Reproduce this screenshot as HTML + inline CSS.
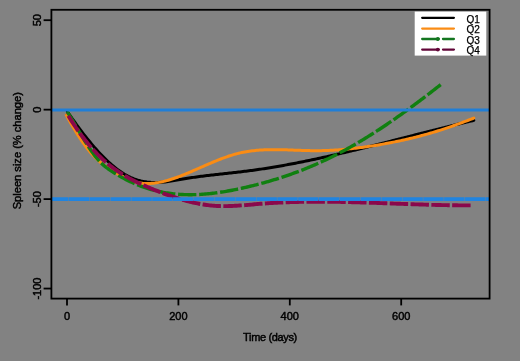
<!DOCTYPE html>
<html><head><meta charset="utf-8"><style>
html,body{margin:0;padding:0;background:rgb(130,130,130);}
body{width:520px;height:361px;overflow:hidden;font-family:"Liberation Sans", sans-serif;}
svg{display:block;filter:blur(0.4px);}
</style></head><body>
<svg width="520" height="361" viewBox="0 0 520 361">
<rect x="0" y="0" width="520" height="361" fill="rgb(130,130,130)"/>
<path d="M67.50,111.85 L69.00,114.01 L70.50,116.16 L72.00,118.29 L73.50,120.39 L75.00,122.48 L76.50,124.55 L78.00,126.60 L79.50,128.62 L81.00,130.62 L82.50,132.59 L84.00,134.54 L85.50,136.47 L87.00,138.36 L88.50,140.23 L90.00,142.07 L91.50,143.88 L93.00,145.65 L94.50,147.40 L96.00,149.11 L97.50,150.79 L99.00,152.44 L100.50,154.04 L102.00,155.62 L103.50,157.15 L105.00,158.65 L106.50,160.11 L108.00,161.52 L109.50,162.90 L111.00,164.23 L112.50,165.53 L114.00,166.77 L115.50,167.98 L117.00,169.14 L118.50,170.25 L120.00,171.31 L121.50,172.33 L123.00,173.29 L124.50,174.21 L126.00,175.07 L127.50,175.89 L129.00,176.65 L130.50,177.36 L132.00,178.01 L133.50,178.62 L135.00,179.17 L136.50,179.68 L138.00,180.14 L139.50,180.56 L141.00,180.93 L142.50,181.26 L144.00,181.55 L145.50,181.79 L147.00,182.00 L148.50,182.17 L150.00,182.30 L151.50,182.40 L153.00,182.47 L154.50,182.50 L156.00,182.50 L157.50,182.47 L159.00,182.41 L160.50,182.33 L162.00,182.22 L163.50,182.08 L165.00,181.92 L166.50,181.74 L168.00,181.55 L169.50,181.34 L171.00,181.11 L172.50,180.87 L174.00,180.63 L175.50,180.37 L177.00,180.11 L178.50,179.84 L180.00,179.58 L181.50,179.31 L183.00,179.05 L184.50,178.79 L186.00,178.54 L187.50,178.29 L189.00,178.05 L190.50,177.82 L192.00,177.59 L193.50,177.37 L195.00,177.15 L196.50,176.94 L198.00,176.73 L199.50,176.53 L201.00,176.33 L202.50,176.14 L204.00,175.95 L205.50,175.77 L207.00,175.59 L208.50,175.41 L210.00,175.23 L211.50,175.06 L213.00,174.89 L214.50,174.72 L216.00,174.55 L217.50,174.39 L219.00,174.22 L220.50,174.06 L222.00,173.90 L223.50,173.73 L225.00,173.57 L226.50,173.41 L228.00,173.25 L229.50,173.08 L231.00,172.92 L232.50,172.76 L234.00,172.59 L235.50,172.42 L237.00,172.25 L238.50,172.08 L240.00,171.90 L241.50,171.73 L243.00,171.55 L244.50,171.36 L246.00,171.18 L247.50,170.98 L249.00,170.79 L250.50,170.59 L252.00,170.39 L253.50,170.19 L255.00,169.98 L256.50,169.77 L258.00,169.55 L259.50,169.33 L261.00,169.11 L262.50,168.88 L264.00,168.66 L265.50,168.43 L267.00,168.19 L268.50,167.95 L270.00,167.71 L271.50,167.47 L273.00,167.22 L274.50,166.97 L276.00,166.72 L277.50,166.46 L279.00,166.20 L280.50,165.94 L282.00,165.68 L283.50,165.41 L285.00,165.14 L286.50,164.87 L288.00,164.59 L289.50,164.31 L291.00,164.03 L292.50,163.75 L294.00,163.46 L295.50,163.17 L297.00,162.88 L298.50,162.59 L300.00,162.29 L301.50,161.99 L303.00,161.69 L304.50,161.39 L306.00,161.08 L307.50,160.78 L309.00,160.47 L310.50,160.15 L312.00,159.84 L313.50,159.52 L315.00,159.21 L316.50,158.88 L318.00,158.56 L319.50,158.24 L321.00,157.91 L322.50,157.58 L324.00,157.25 L325.50,156.92 L327.00,156.59 L328.50,156.25 L330.00,155.91 L331.50,155.57 L333.00,155.23 L334.50,154.89 L336.00,154.54 L337.50,154.20 L339.00,153.85 L340.50,153.50 L342.00,153.15 L343.50,152.80 L345.00,152.44 L346.50,152.09 L348.00,151.73 L349.50,151.38 L351.00,151.02 L352.50,150.66 L354.00,150.29 L355.50,149.93 L357.00,149.57 L358.50,149.20 L360.00,148.84 L361.50,148.47 L363.00,148.10 L364.50,147.73 L366.00,147.36 L367.50,146.99 L369.00,146.62 L370.50,146.25 L372.00,145.87 L373.50,145.50 L375.00,145.12 L376.50,144.75 L378.00,144.37 L379.50,143.99 L381.00,143.62 L382.50,143.24 L384.00,142.86 L385.50,142.48 L387.00,142.10 L388.50,141.72 L390.00,141.34 L391.50,140.95 L393.00,140.57 L394.50,140.19 L396.00,139.81 L397.50,139.43 L399.00,139.04 L400.50,138.66 L402.00,138.28 L403.50,137.89 L405.00,137.51 L406.50,137.13 L408.00,136.74 L409.50,136.36 L411.00,135.98 L412.50,135.59 L414.00,135.21 L415.50,134.82 L417.00,134.44 L418.50,134.06 L420.00,133.68 L421.50,133.29 L423.00,132.91 L424.50,132.53 L426.00,132.15 L427.50,131.77 L429.00,131.39 L430.50,131.01 L432.00,130.63 L433.50,130.25 L435.00,129.87 L436.50,129.49 L438.00,129.12 L439.50,128.74 L441.00,128.36 L442.50,127.99 L444.00,127.61 L445.50,127.24 L447.00,126.87 L448.50,126.50 L450.00,126.12 L451.50,125.76 L453.00,125.39 L454.50,125.02 L456.00,124.65 L457.50,124.29 L459.00,123.92 L460.50,123.56 L462.00,123.19 L463.50,122.83 L465.00,122.47 L466.50,122.11 L468.00,121.76 L469.50,121.40 L471.00,121.05 L472.50,120.69 L473.80,120.39" fill="none" stroke="#000" stroke-width="3" stroke-linejoin="round" stroke-linecap="round"/>
<path d="M66.30,115.08 L67.80,117.80 L69.30,120.49 L70.80,123.14 L72.30,125.74 L73.80,128.29 L75.30,130.79 L76.80,133.23 L78.30,135.62 L79.80,137.94 L81.30,140.19 L82.80,142.38 L84.30,144.50 L85.80,146.54 L87.30,148.50 L88.80,150.38 L90.30,152.18 L91.80,153.89 L93.30,155.51 L94.80,157.06 L96.30,158.53 L97.80,159.93 L99.30,161.27 L100.80,162.54 L102.30,163.76 L103.80,164.92 L105.30,166.04 L106.80,167.10 L108.30,168.13 L109.80,169.13 L111.30,170.09 L112.80,171.02 L114.30,171.93 L115.80,172.82 L117.30,173.70 L118.80,174.56 L120.30,175.43 L121.80,176.28 L123.30,177.12 L124.80,177.93 L126.30,178.69 L127.80,179.40 L129.30,180.05 L130.80,180.63 L132.30,181.15 L133.80,181.60 L135.30,182.01 L136.80,182.36 L138.30,182.65 L139.80,182.91 L141.30,183.11 L142.80,183.27 L144.30,183.38 L145.80,183.46 L147.30,183.48 L148.80,183.47 L150.30,183.42 L151.80,183.33 L153.30,183.21 L154.80,183.05 L156.30,182.85 L157.80,182.62 L159.30,182.36 L160.80,182.07 L162.30,181.75 L163.80,181.40 L165.30,181.03 L166.80,180.63 L168.30,180.20 L169.80,179.76 L171.30,179.29 L172.80,178.80 L174.30,178.29 L175.80,177.76 L177.30,177.22 L178.80,176.66 L180.30,176.08 L181.80,175.50 L183.30,174.90 L184.80,174.29 L186.30,173.67 L187.80,173.05 L189.30,172.41 L190.80,171.77 L192.30,171.13 L193.80,170.47 L195.30,169.82 L196.80,169.16 L198.30,168.50 L199.80,167.84 L201.30,167.18 L202.80,166.52 L204.30,165.87 L205.80,165.21 L207.30,164.56 L208.80,163.91 L210.30,163.27 L211.80,162.63 L213.30,162.00 L214.80,161.38 L216.30,160.77 L217.80,160.17 L219.30,159.57 L220.80,158.99 L222.30,158.42 L223.80,157.87 L225.30,157.33 L226.80,156.80 L228.30,156.29 L229.80,155.80 L231.30,155.32 L232.80,154.87 L234.30,154.43 L235.80,154.01 L237.30,153.62 L238.80,153.25 L240.30,152.89 L241.80,152.57 L243.30,152.26 L244.80,151.97 L246.30,151.70 L247.80,151.46 L249.30,151.23 L250.80,151.02 L252.30,150.82 L253.80,150.65 L255.30,150.49 L256.80,150.34 L258.30,150.22 L259.80,150.10 L261.30,150.00 L262.80,149.91 L264.30,149.84 L265.80,149.78 L267.30,149.73 L268.80,149.69 L270.30,149.66 L271.80,149.64 L273.30,149.63 L274.80,149.63 L276.30,149.64 L277.80,149.65 L279.30,149.68 L280.80,149.70 L282.30,149.74 L283.80,149.78 L285.30,149.82 L286.80,149.87 L288.30,149.92 L289.80,149.97 L291.30,150.02 L292.80,150.08 L294.30,150.14 L295.80,150.19 L297.30,150.25 L298.80,150.31 L300.30,150.36 L301.80,150.41 L303.30,150.46 L304.80,150.51 L306.30,150.55 L307.80,150.59 L309.30,150.62 L310.80,150.65 L312.30,150.67 L313.80,150.69 L315.30,150.69 L316.80,150.69 L318.30,150.68 L319.80,150.67 L321.30,150.64 L322.80,150.61 L324.30,150.57 L325.80,150.53 L327.30,150.47 L328.80,150.41 L330.30,150.34 L331.80,150.27 L333.30,150.18 L334.80,150.09 L336.30,150.00 L337.80,149.89 L339.30,149.78 L340.80,149.67 L342.30,149.55 L343.80,149.42 L345.30,149.28 L346.80,149.14 L348.30,148.99 L349.80,148.84 L351.30,148.68 L352.80,148.52 L354.30,148.35 L355.80,148.17 L357.30,147.99 L358.80,147.80 L360.30,147.61 L361.80,147.41 L363.30,147.20 L364.80,147.00 L366.30,146.78 L367.80,146.56 L369.30,146.34 L370.80,146.11 L372.30,145.88 L373.80,145.64 L375.30,145.40 L376.80,145.15 L378.30,144.90 L379.80,144.65 L381.30,144.39 L382.80,144.13 L384.30,143.86 L385.80,143.59 L387.30,143.31 L388.80,143.03 L390.30,142.74 L391.80,142.45 L393.30,142.15 L394.80,141.85 L396.30,141.55 L397.80,141.24 L399.30,140.92 L400.80,140.60 L402.30,140.28 L403.80,139.95 L405.30,139.61 L406.80,139.27 L408.30,138.92 L409.80,138.57 L411.30,138.21 L412.80,137.85 L414.30,137.48 L415.80,137.11 L417.30,136.73 L418.80,136.34 L420.30,135.95 L421.80,135.55 L423.30,135.15 L424.80,134.74 L426.30,134.32 L427.80,133.90 L429.30,133.48 L430.80,133.04 L432.30,132.60 L433.80,132.16 L435.30,131.70 L436.80,131.24 L438.30,130.78 L439.80,130.31 L441.30,129.83 L442.80,129.34 L444.30,128.85 L445.80,128.35 L447.30,127.85 L448.80,127.34 L450.30,126.83 L451.80,126.30 L453.30,125.78 L454.80,125.25 L456.30,124.71 L457.80,124.17 L459.30,123.62 L460.80,123.07 L462.30,122.51 L463.80,121.95 L465.30,121.39 L466.80,120.82 L468.30,120.24 L469.80,119.67 L471.30,119.09 L472.80,118.50 L473.80,118.11" fill="none" stroke="rgb(250,140,20)" stroke-width="3" stroke-linejoin="round" stroke-linecap="round"/>
<path d="M67.20,111.64 L68.70,114.04 L70.20,116.48 L71.70,118.96 L73.20,121.48 L74.70,124.01 L76.20,126.55 L77.70,129.09 L79.20,131.62 L80.70,134.15 L82.20,136.65 L83.70,139.12 L85.20,141.55 L86.70,143.93 L88.20,146.27 L89.70,148.54 L91.20,150.74 L92.70,152.86 L94.20,154.89 L95.70,156.84 L97.20,158.67 L98.70,160.40 L100.20,162.02 L101.70,163.51 L103.20,164.88 L104.70,166.17 L106.20,167.36 L107.70,168.49 L109.20,169.55 L110.70,170.57 L112.20,171.55 L113.70,172.51 L115.20,173.45 L116.70,174.37 L118.20,175.26 L119.70,176.13 L121.20,176.98 L122.70,177.80 L124.20,178.61 L125.70,179.39 L127.20,180.15 L128.70,180.89 L130.20,181.61 L131.70,182.31 L133.20,182.99 L134.70,183.64 L136.20,184.28 L137.70,184.89 L139.20,185.48 L140.70,186.06 L142.20,186.61 L143.70,187.14 L145.20,187.65 L146.70,188.15 L148.20,188.62 L149.70,189.07 L151.20,189.50 L152.70,189.92 L154.20,190.31 L155.70,190.69 L157.20,191.05 L158.70,191.39 L160.20,191.71 L161.70,192.01 L163.20,192.30 L164.70,192.57 L166.20,192.82 L167.70,193.05 L169.20,193.27 L170.70,193.47 L172.20,193.66 L173.70,193.83 L175.20,193.98 L176.70,194.12 L178.20,194.24 L179.70,194.35 L181.20,194.44 L182.70,194.51 L184.20,194.58 L185.70,194.62 L187.20,194.66 L188.70,194.68 L190.20,194.68 L191.70,194.68 L193.20,194.66 L194.70,194.62 L196.20,194.58 L197.70,194.52 L199.20,194.45 L200.70,194.36 L202.20,194.27 L203.70,194.16 L205.20,194.04 L206.70,193.91 L208.20,193.77 L209.70,193.62 L211.20,193.46 L212.70,193.29 L214.20,193.11 L215.70,192.91 L217.20,192.71 L218.70,192.50 L220.20,192.28 L221.70,192.05 L223.20,191.81 L224.70,191.57 L226.20,191.31 L227.70,191.05 L229.20,190.78 L230.70,190.50 L232.20,190.21 L233.70,189.92 L235.20,189.62 L236.70,189.31 L238.20,189.00 L239.70,188.67 L241.20,188.35 L242.70,188.02 L244.20,187.68 L245.70,187.33 L247.20,186.99 L248.70,186.63 L250.20,186.27 L251.70,185.91 L253.20,185.54 L254.70,185.16 L256.20,184.78 L257.70,184.39 L259.20,184.00 L260.70,183.60 L262.20,183.19 L263.70,182.78 L265.20,182.36 L266.70,181.94 L268.20,181.51 L269.70,181.07 L271.20,180.63 L272.70,180.18 L274.20,179.73 L275.70,179.27 L277.20,178.80 L278.70,178.32 L280.20,177.84 L281.70,177.36 L283.20,176.86 L284.70,176.36 L286.20,175.85 L287.70,175.34 L289.20,174.82 L290.70,174.29 L292.20,173.76 L293.70,173.21 L295.20,172.67 L296.70,172.11 L298.20,171.55 L299.70,170.97 L301.20,170.40 L302.70,169.81 L304.20,169.22 L305.70,168.62 L307.20,168.01 L308.70,167.39 L310.20,166.77 L311.70,166.14 L313.20,165.50 L314.70,164.86 L316.20,164.20 L317.70,163.54 L319.20,162.87 L320.70,162.19 L322.20,161.50 L323.70,160.81 L325.20,160.11 L326.70,159.40 L328.20,158.68 L329.70,157.95 L331.20,157.21 L332.70,156.47 L334.20,155.72 L335.70,154.96 L337.20,154.19 L338.70,153.41 L340.20,152.62 L341.70,151.83 L343.20,151.02 L344.70,150.21 L346.20,149.39 L347.70,148.56 L349.20,147.73 L350.70,146.89 L352.20,146.03 L353.70,145.17 L355.20,144.31 L356.70,143.43 L358.20,142.55 L359.70,141.66 L361.20,140.77 L362.70,139.86 L364.20,138.95 L365.70,138.03 L367.20,137.11 L368.70,136.17 L370.20,135.24 L371.70,134.29 L373.20,133.34 L374.70,132.38 L376.20,131.41 L377.70,130.44 L379.20,129.46 L380.70,128.47 L382.20,127.48 L383.70,126.48 L385.20,125.48 L386.70,124.47 L388.20,123.45 L389.70,122.43 L391.20,121.40 L392.70,120.36 L394.20,119.32 L395.70,118.28 L397.20,117.23 L398.70,116.17 L400.20,115.11 L401.70,114.04 L403.20,112.97 L404.70,111.89 L406.20,110.80 L407.70,109.72 L409.20,108.62 L410.70,107.52 L412.20,106.42 L413.70,105.31 L415.20,104.20 L416.70,103.08 L418.20,101.96 L419.70,100.83 L421.20,99.70 L422.70,98.57 L424.20,97.43 L425.70,96.28 L427.20,95.14 L428.70,93.98 L430.20,92.83 L431.70,91.67 L433.20,90.50 L434.70,89.34 L436.20,88.17 L437.70,86.99 L439.20,85.81 L440.70,84.63" fill="none" stroke="rgb(16,128,16)" stroke-width="3.4" stroke-dasharray="18.3 2.78" stroke-dashoffset="1.43" stroke-linejoin="round"/>
<path d="M67.00,113.56 L68.50,116.05 L70.00,118.48 L71.50,120.85 L73.00,123.18 L74.50,125.45 L76.00,127.67 L77.50,129.84 L79.00,131.96 L80.50,134.03 L82.00,136.05 L83.50,138.03 L85.00,139.96 L86.50,141.84 L88.00,143.67 L89.50,145.46 L91.00,147.20 L92.50,148.90 L94.00,150.55 L95.50,152.16 L97.00,153.73 L98.50,155.25 L100.00,156.73 L101.50,158.17 L103.00,159.57 L104.50,160.93 L106.00,162.25 L107.50,163.52 L109.00,164.76 L110.50,165.97 L112.00,167.13 L113.50,168.26 L115.00,169.35 L116.50,170.41 L118.00,171.44 L119.50,172.44 L121.00,173.41 L122.50,174.35 L124.00,175.26 L125.50,176.15 L127.00,177.01 L128.50,177.85 L130.00,178.66 L131.50,179.46 L133.00,180.24 L134.50,180.99 L136.00,181.73 L137.50,182.46 L139.00,183.17 L140.50,183.87 L142.00,184.55 L143.50,185.23 L145.00,185.90 L146.50,186.55 L148.00,187.20 L149.50,187.85 L151.00,188.48 L152.50,189.10 L154.00,189.72 L155.50,190.33 L157.00,190.93 L158.50,191.52 L160.00,192.11 L161.50,192.68 L163.00,193.25 L164.50,193.80 L166.00,194.35 L167.50,194.89 L169.00,195.42 L170.50,195.94 L172.00,196.45 L173.50,196.96 L175.00,197.45 L176.50,197.93 L178.00,198.41 L179.50,198.87 L181.00,199.32 L182.50,199.76 L184.00,200.18 L185.50,200.60 L187.00,201.00 L188.50,201.39 L190.00,201.77 L191.50,202.13 L193.00,202.48 L194.50,202.82 L196.00,203.14 L197.50,203.45 L199.00,203.74 L200.50,204.02 L202.00,204.28 L203.50,204.52 L205.00,204.75 L206.50,204.96 L208.00,205.16 L209.50,205.34 L211.00,205.50 L212.50,205.64 L214.00,205.76 L215.50,205.87 L217.00,205.95 L218.50,206.02 L220.00,206.07 L221.50,206.11 L223.00,206.13 L224.50,206.14 L226.00,206.13 L227.50,206.10 L229.00,206.07 L230.50,206.02 L232.00,205.97 L233.50,205.90 L235.00,205.82 L236.50,205.74 L238.00,205.64 L239.50,205.54 L241.00,205.43 L242.50,205.32 L244.00,205.20 L245.50,205.08 L247.00,204.96 L248.50,204.83 L250.00,204.70 L251.50,204.57 L253.00,204.44 L254.50,204.31 L256.00,204.18 L257.50,204.05 L259.00,203.92 L260.50,203.80 L262.00,203.69 L263.50,203.57 L265.00,203.46 L266.50,203.36 L268.00,203.25 L269.50,203.16 L271.00,203.06 L272.50,202.97 L274.00,202.88 L275.50,202.80 L277.00,202.72 L278.50,202.64 L280.00,202.57 L281.50,202.50 L283.00,202.43 L284.50,202.37 L286.00,202.31 L287.50,202.25 L289.00,202.20 L290.50,202.15 L292.00,202.10 L293.50,202.05 L295.00,202.01 L296.50,201.97 L298.00,201.94 L299.50,201.90 L301.00,201.87 L302.50,201.84 L304.00,201.82 L305.50,201.80 L307.00,201.78 L308.50,201.76 L310.00,201.75 L311.50,201.73 L313.00,201.72 L314.50,201.72 L316.00,201.71 L317.50,201.71 L319.00,201.71 L320.50,201.71 L322.00,201.72 L323.50,201.72 L325.00,201.73 L326.50,201.74 L328.00,201.75 L329.50,201.77 L331.00,201.78 L332.50,201.80 L334.00,201.82 L335.50,201.84 L337.00,201.87 L338.50,201.89 L340.00,201.92 L341.50,201.94 L343.00,201.97 L344.50,202.01 L346.00,202.04 L347.50,202.07 L349.00,202.11 L350.50,202.14 L352.00,202.18 L353.50,202.22 L355.00,202.26 L356.50,202.30 L358.00,202.35 L359.50,202.39 L361.00,202.43 L362.50,202.48 L364.00,202.53 L365.50,202.57 L367.00,202.62 L368.50,202.67 L370.00,202.72 L371.50,202.77 L373.00,202.82 L374.50,202.87 L376.00,202.92 L377.50,202.98 L379.00,203.03 L380.50,203.08 L382.00,203.14 L383.50,203.19 L385.00,203.25 L386.50,203.30 L388.00,203.36 L389.50,203.41 L391.00,203.47 L392.50,203.52 L394.00,203.58 L395.50,203.63 L397.00,203.69 L398.50,203.74 L400.00,203.80 L401.50,203.85 L403.00,203.91 L404.50,203.96 L406.00,204.01 L407.50,204.07 L409.00,204.12 L410.50,204.17 L412.00,204.22 L413.50,204.27 L415.00,204.33 L416.50,204.38 L418.00,204.42 L419.50,204.47 L421.00,204.52 L422.50,204.57 L424.00,204.61 L425.50,204.66 L427.00,204.70 L428.50,204.75 L430.00,204.79 L431.50,204.83 L433.00,204.87 L434.50,204.91 L436.00,204.95 L437.50,204.98 L439.00,205.02 L440.50,205.05 L442.00,205.08 L443.50,205.11 L445.00,205.14 L446.50,205.17 L448.00,205.19 L449.50,205.22 L451.00,205.24 L452.50,205.26 L454.00,205.28 L455.50,205.30 L457.00,205.31 L458.50,205.33 L460.00,205.34 L461.50,205.35 L463.00,205.35 L464.50,205.36 L466.00,205.36 L467.50,205.36 L469.00,205.36 L470.50,205.36 L471.20,205.36" fill="none" stroke="rgb(138,8,76)" stroke-width="3.9" stroke-dasharray="18.42 2.4" stroke-dashoffset="18.28" stroke-linejoin="round"/>
<line x1="51" y1="110" x2="490" y2="110" stroke="rgb(32,126,214)" stroke-width="3.2"/>
<line x1="51" y1="199.1" x2="490" y2="199.1" stroke="rgb(32,132,224)" stroke-width="3.6" stroke-dasharray="20.45 0.4" stroke-dashoffset="3.05"/>
<rect x="51.4" y="9.8" width="438.2" height="288.8" fill="none" stroke="#000" stroke-width="1.8"/>
<line x1="43.6" y1="20.20" x2="51.4" y2="20.20" stroke="#000" stroke-width="1.8"/>
<text x="41.3" y="20.20" transform="rotate(-90 41.3 20.20)" text-anchor="middle" font-family='"Liberation Sans", sans-serif' font-size="11" fill="#000" stroke="#000" stroke-width="0.45">50</text>
<line x1="43.6" y1="109.65" x2="51.4" y2="109.65" stroke="#000" stroke-width="1.8"/>
<text x="41.3" y="109.65" transform="rotate(-90 41.3 109.65)" text-anchor="middle" font-family='"Liberation Sans", sans-serif' font-size="11" fill="#000" stroke="#000" stroke-width="0.45">0</text>
<line x1="43.6" y1="199.10" x2="51.4" y2="199.10" stroke="#000" stroke-width="1.8"/>
<text x="41.3" y="199.10" transform="rotate(-90 41.3 199.10)" text-anchor="middle" font-family='"Liberation Sans", sans-serif' font-size="11" fill="#000" stroke="#000" stroke-width="0.45">-50</text>
<line x1="43.6" y1="288.55" x2="51.4" y2="288.55" stroke="#000" stroke-width="1.8"/>
<text x="41.3" y="288.55" transform="rotate(-90 41.3 288.55)" text-anchor="middle" font-family='"Liberation Sans", sans-serif' font-size="11" fill="#000" stroke="#000" stroke-width="0.45">-100</text>
<line x1="67.00" y1="298.6" x2="67.00" y2="305.4" stroke="#000" stroke-width="1.8"/>
<text x="67.00" y="319.5" text-anchor="middle" font-family='"Liberation Sans", sans-serif' font-size="11" fill="#000" stroke="#000" stroke-width="0.45">0</text>
<line x1="178.40" y1="298.6" x2="178.40" y2="305.4" stroke="#000" stroke-width="1.8"/>
<text x="178.40" y="319.5" text-anchor="middle" font-family='"Liberation Sans", sans-serif' font-size="11" fill="#000" stroke="#000" stroke-width="0.45">200</text>
<line x1="289.80" y1="298.6" x2="289.80" y2="305.4" stroke="#000" stroke-width="1.8"/>
<text x="289.80" y="319.5" text-anchor="middle" font-family='"Liberation Sans", sans-serif' font-size="11" fill="#000" stroke="#000" stroke-width="0.45">400</text>
<line x1="401.20" y1="298.6" x2="401.20" y2="305.4" stroke="#000" stroke-width="1.8"/>
<text x="401.20" y="319.5" text-anchor="middle" font-family='"Liberation Sans", sans-serif' font-size="11" fill="#000" stroke="#000" stroke-width="0.45">600</text>
<text x="270" y="341.3" text-anchor="middle" font-family='"Liberation Sans", sans-serif' font-size="11" letter-spacing="-0.35" fill="#000" stroke="#000" stroke-width="0.45">Time (days)</text>
<text x="20.6" y="150.7" transform="rotate(-90 20.6 150.7)" text-anchor="middle" font-family='"Liberation Sans", sans-serif' font-size="11.1" fill="#000" stroke="#000" stroke-width="0.45">Spleen size (% change)</text>
<rect x="414.7" y="11.6" width="71.6" height="44" fill="#fff"/>
<line x1="422.2" y1="17.8" x2="453.9" y2="17.8" stroke="#000" stroke-width="2.3" stroke-linecap="round"/>
<text x="466.5" y="22.6" font-family='"Liberation Sans", sans-serif' font-size="10" fill="#000" stroke="#000" stroke-width="0.25">Q1</text>
<line x1="422.2" y1="28.6" x2="453.9" y2="28.6" stroke="rgb(250,140,20)" stroke-width="2.3" stroke-linecap="round"/>
<text x="466.5" y="33.4" font-family='"Liberation Sans", sans-serif' font-size="10" fill="#000" stroke="#000" stroke-width="0.25">Q2</text>
<line x1="422.2" y1="39.0" x2="438.8" y2="39.0" stroke="rgb(20,118,32)" stroke-width="2.3" stroke-linecap="round"/>
<circle cx="437.8" cy="39.0" r="1.9" fill="rgb(20,118,32)"/>
<line x1="443.0" y1="39.0" x2="453.9" y2="39.0" stroke="rgb(20,118,32)" stroke-width="2.3" stroke-linecap="round"/>
<text x="466.5" y="43.8" font-family='"Liberation Sans", sans-serif' font-size="10" fill="#000" stroke="#000" stroke-width="0.25">Q3</text>
<line x1="422.2" y1="49.6" x2="438.8" y2="49.6" stroke="rgb(98,6,56)" stroke-width="2.3" stroke-linecap="round"/>
<circle cx="437.8" cy="49.6" r="1.9" fill="rgb(98,6,56)"/>
<line x1="443.0" y1="49.6" x2="453.9" y2="49.6" stroke="rgb(98,6,56)" stroke-width="2.3" stroke-linecap="round"/>
<text x="466.5" y="54.4" font-family='"Liberation Sans", sans-serif' font-size="10" fill="#000" stroke="#000" stroke-width="0.25">Q4</text>
</svg>
</body></html>
